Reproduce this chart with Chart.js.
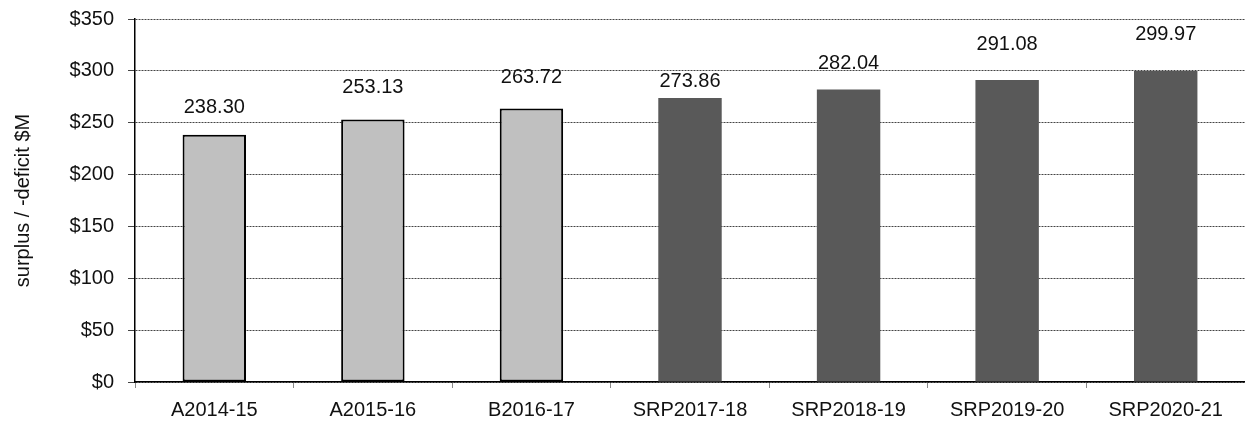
<!DOCTYPE html>
<html>
<head>
    <title>Surplus / deficit</title>
    <script src="https://cdn.jsdelivr.net/npm/chart.js"></script>
    <style>
        body {
            margin: 0;
            padding: 0;
            background: #ffffff;
        }
        #wrap {
            width: 1245px;
            height: 426px;
        }
    </style>
</head>
<body>
    <div id="wrap"><canvas id="chart"></canvas></div>

    <script>
        const categories = ['A2014-15', 'A2015-16', 'B2016-17', 'SRP2017-18', 'SRP2018-19', 'SRP2019-20', 'SRP2020-21'];
        const surplus = [238.30, 253.13, 263.72, 273.86, 282.04, 291.08, 299.97];
        const yTicks = [0, 50, 100, 150, 200, 250, 300, 350];

        // first three are actuals/budget (light), rest are SRP (dark)
        const fills = ['#c0c0c0', '#c0c0c0', '#c0c0c0', '#595959', '#595959', '#595959', '#595959'];
        const borders = [2, 2, 2, 0, 0, 0, 0];
        // how far each value label sits above its bar (px)
        const labelLift = [27, 32, 31, 16, 26, 36, 36];

        const font = "'Liberation Sans', Arial, sans-serif";

        const valueLabels = {
            id: 'valueLabels',
            afterDatasetsDraw(chart) {
                const ctx = chart.ctx;
                const meta = chart.getDatasetMeta(0);
                ctx.save();
                ctx.font = '20px ' + font;
                ctx.fillStyle = '#111';
                ctx.textAlign = 'center';
                ctx.textBaseline = 'middle';
                meta.data.forEach((bar, i) => {
                    ctx.fillText(surplus[i].toFixed(2), bar.x, bar.y - labelLift[i]);
                });
                ctx.restore();
            }
        };

        new Chart(document.getElementById('chart'), {
            type: 'bar',
            data: {
                labels: categories,
                datasets: [{
                    data: surplus,
                    backgroundColor: fills,
                    borderColor: '#000',
                    borderWidth: borders,
                    borderSkipped: false,
                    categoryPercentage: 1,
                    barPercentage: 0.4
                }]
            },
            options: {
                responsive: true,
                maintainAspectRatio: false,
                animation: false,
                layout: { padding: { top: 19, right: 0, left: 0, bottom: 0 } },
                plugins: {
                    legend: { display: false },
                    tooltip: { enabled: false }
                },
                scales: {
                    x: {
                        offset: true,
                        grid: {
                            offset: true,
                            drawOnChartArea: false,
                            drawTicks: true,
                            tickLength: 6,
                            color: '#888'
                        },
                        border: { color: '#000', width: 1.5 },
                        ticks: {
                            color: '#111',
                            font: { family: font, size: 20 },
                            padding: 10,
                            maxRotation: 0
                        },
                        afterFit(scale) { scale.height = 44; }
                    },
                    y: {
                        min: 0,
                        max: 350,
                        afterBuildTicks(scale) {
                            scale.ticks = yTicks.map(v => ({ value: v }));
                        },
                        grid: {
                            color: '#444',
                            tickLength: 7,
                            tickBorderDash: [],
                            tickColor: '#444',
                            lineWidth: 1
                        },
                        border: { color: '#000', width: 1.5, dash: [2, 1] },
                        ticks: {
                            color: '#111',
                            font: { family: font, size: 20 },
                            padding: 14,
                            callback: v => '$' + v
                        },
                        title: {
                            display: true,
                            text: 'surplus / -deficit $M',
                            color: '#111',
                            font: { family: font, size: 20 },
                            padding: { top: 11, bottom: 0 }
                        },
                        afterFit(scale) {
                            scale.width = 135;
                            scale.paddingTop = 0;
                            scale.paddingBottom = 0;
                        }
                    }
                }
            },
            plugins: [valueLabels]
        });
    </script>
</body>
</html>
